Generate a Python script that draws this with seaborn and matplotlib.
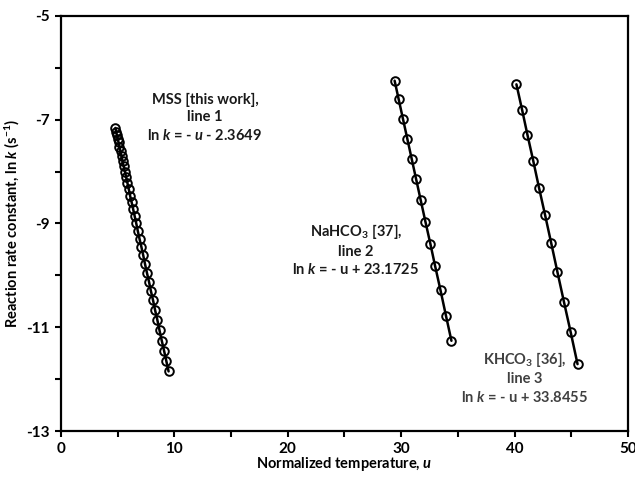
import matplotlib
matplotlib.use("Agg")
import matplotlib.pyplot as plt
import seaborn as sns
import pandas as pd

# Series 1: MSS [this work]
u_mss = [4.80, 4.86, 4.93, 5.00, 5.08, 5.16, 5.25, 5.34, 5.43, 5.53, 5.64, 5.75,
         5.86, 5.98, 6.10, 6.23, 6.36, 6.50, 6.64, 6.78, 6.93, 7.09, 7.25, 7.41,
         7.58, 7.76, 7.93, 8.12, 8.30, 8.50, 8.69, 8.89, 9.09, 9.29, 9.49]
lnk_mss = [-7.16, -7.23, -7.30, -7.37, -7.44, -7.53, -7.61, -7.70, -7.80, -7.90,
           -8.00, -8.11, -8.22, -8.34, -8.47, -8.59, -8.72, -8.86, -9.00, -9.15,
           -9.30, -9.45, -9.61, -9.78, -9.95, -10.12, -10.30, -10.48, -10.67,
           -10.86, -11.06, -11.26, -11.45, -11.65, -11.85]

# Series 2: NaHCO3 [37]
u_na = [29.42, 29.78, 30.16, 30.54, 30.93, 31.31, 31.72, 32.14, 32.57, 32.98,
        33.47, 33.95, 34.43]
lnk_na = [-6.25, -6.61, -6.99, -7.37, -7.76, -8.14, -8.55, -8.97, -9.39, -9.81,
          -10.29, -10.78, -11.26]

# Series 3: KHCO3 [36]
u_k = [40.16, 40.66, 41.13, 41.64, 42.15, 42.69, 43.23, 43.78, 44.36, 44.95, 45.55]
lnk_k = [-6.32, -6.81, -7.29, -7.79, -8.31, -8.84, -9.38, -9.94, -10.52, -11.10, -11.71]

sns.set_theme(style="white")
plt.rcParams['font.family'] = ['Lato', 'DejaVu Sans']
plt.rcParams['font.weight'] = 'bold'
plt.rcParams['axes.unicode_minus'] = False
plt.rcParams['mathtext.fontset'] = 'custom'
plt.rcParams['mathtext.rm'] = 'Lato:bold'
plt.rcParams['mathtext.bf'] = 'Lato:bold'
plt.rcParams['mathtext.it'] = 'Lato:italic:bold'

fig = plt.figure(figsize=(6.35, 4.79), dpi=100)
ax = fig.add_axes([0.096, 0.100, 0.893, 0.867])

for u, lk in [(u_mss, lnk_mss), (u_na, lnk_na), (u_k, lnk_k)]:
    df = pd.DataFrame({"u": u, "lnk": lk})
    sns.lineplot(data=df, x="u", y="lnk", ax=ax, color="black", linewidth=1.8,
                 marker="o", markersize=6.2, markerfacecolor="none",
                 markeredgecolor="black", markeredgewidth=1.4, sort=False)

ax.set_xlim(0, 50)
ax.set_ylim(-13, -5)
ax.set_xticks(range(0, 51, 10))
ax.set_xticks(range(0, 51, 5), minor=True)
ax.set_yticks(range(-13, -4, 2))
ax.set_yticks(range(-13, -4, 1), minor=True)
ax.tick_params(which="both", direction="out", length=4, width=1.5, color="black",
               left=True, bottom=True, labelsize=11, labelcolor="black", pad=4)
for lab in ax.get_xticklabels() + ax.get_yticklabels():
    lab.set_fontweight("bold")
for s in ax.spines.values():
    s.set_color("black")
    s.set_linewidth(1.6)

ax.set_xlabel(r"Normalized temperature, $u$", fontsize=10.5, fontweight="bold",
              color="black")
ax.set_ylabel(r"Reaction rate constant, ln $k$ (s$^{-1}$)", fontsize=10.5,
              fontweight="bold", color="black")
ax.xaxis.set_label_coords(0.5, -0.058)
ax.yaxis.set_label_coords(-0.068, 0.5)

ax.text(12.7, -6.97, "MSS [this work],\nline 1\nln $k$ = - $u$ - 2.3649",
        ha="center", va="center", fontsize=10.5, fontweight="bold",
        color="#1a1a1a", linespacing=1.3)
ax.text(26.0, -9.51, "NaHCO$_3$ [37],\nline 2\nln $k$ = - u + 23.1725",
        ha="center", va="center", fontsize=10.5, fontweight="bold",
        color="#1a1a1a", linespacing=1.3)
ax.text(40.9, -11.96, "KHCO$_3$ [36],\nline 3\nln $k$ = - u + 33.8455",
        ha="center", va="center", fontsize=10.5, fontweight="bold",
        color="#404040", linespacing=1.3)

fig.savefig("out.png", dpi=100)
